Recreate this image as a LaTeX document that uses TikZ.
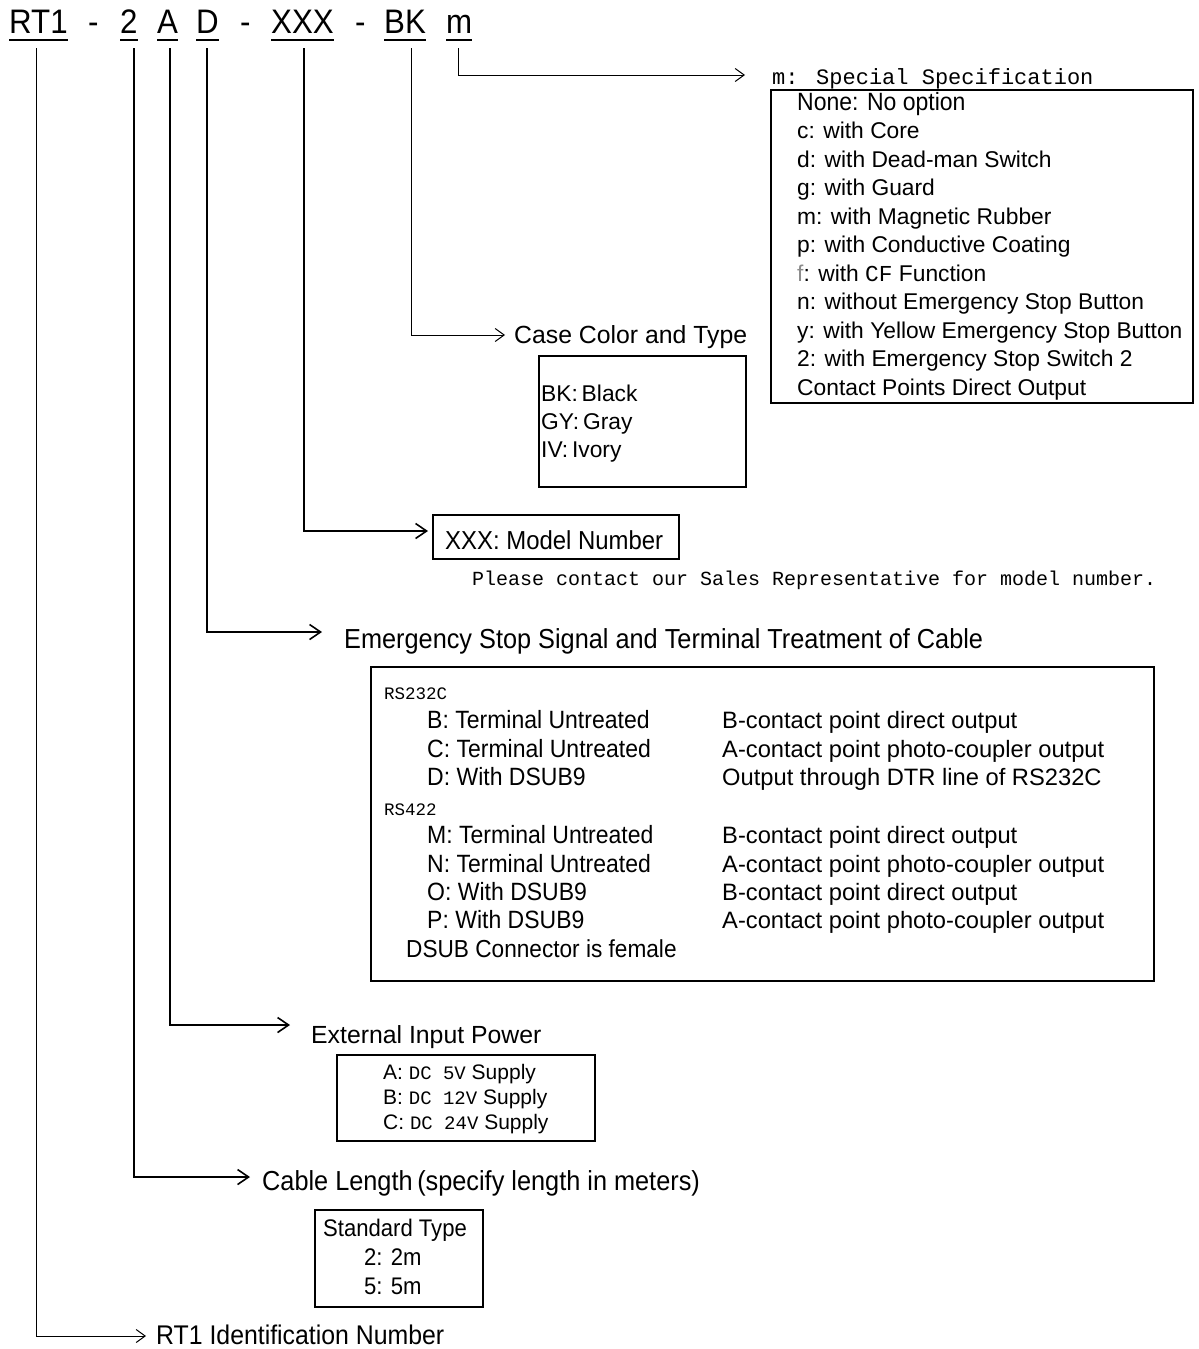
\documentclass[tikz,border=0pt]{standalone}
\usepackage{fontspec}
\setmainfont{Liberation Sans}
\newfontfamily\nar[FakeStretch=0.92]{Liberation Sans}
\newfontfamily\monof{Liberation Mono}
\usetikzlibrary{arrows.meta}
\newcommand{\fsz}[1]{\fontsize{#1}{#1}\selectfont}
\begin{document}
\begin{tikzpicture}[x=1pt,y=-1pt,
  txt/.style={anchor=base west, inner sep=0pt, font=\fsz{22.8}},
  rtxt/.style={anchor=base west, inner sep=0pt, font=\fsz{23.7}},
  ntxt/.style={anchor=base west, inner sep=0pt, font=\nar\fsz{25}},
  ttxt/.style={anchor=base west, inner sep=0pt, font=\nar\fsz{27.5}},
  mtxt/.style={anchor=base west, inner sep=0pt, font=\monof\fsz{20}},
  hdr/.style={anchor=base west, inner sep=0pt, font=\nar\fsz{34}},
  boxx/.style={draw, line width=1.6pt, anchor=north west, inner sep=0pt},
  uline/.style={line width=2pt},
  thinarr/.style={line width=1pt, -{Straight Barb[length=9pt,width=13pt,line width=1pt]}},
  thickarr/.style={line width=2pt, -{Straight Barb[length=11pt,width=15pt,line width=1.6pt]}}
]
\useasboundingbox (0,0) rectangle (1199,1349);
% header
\node[hdr] (hRT) at (9,33) {RT1};
\node[hdr] (hd1) at (88,33) {-};
\node[hdr] (h2) at (120,33) {2};
\node[hdr] (hA) at (157,33) {A};
\node[hdr] (hD) at (196,33) {D};
\node[hdr] (hd2) at (240,33) {-};
\node[hdr] (hX) at (271,33) {XXX};
\node[hdr] (hd3) at (355,33) {-};
\node[hdr] (hBK) at (384,33) {BK};
\node[hdr] (hm) at (446,33) {m};
\foreach \n in {hRT,h2,hA,hD,hX,hBK,hm}{
  \draw[uline] ([yshift=-7pt]\n.base west) -- ([yshift=-7pt]\n.base east);
}
% connector coordinates
\coordinate (sRT) at (36,48);  \coordinate (eRT) at (146,1336);
\coordinate (s2)  at (134,48); \coordinate (e2)  at (250,1177);
\coordinate (sA)  at (170,48); \coordinate (eA)  at (290,1025);
\coordinate (sD)  at (207,48); \coordinate (eD)  at (322,632);
\coordinate (sX)  at (304,48); \coordinate (eX)  at (428,531);
\coordinate (sBK) at (411,48); \coordinate (eBK) at (505,335);
\coordinate (sm)  at (458,48); \coordinate (em)  at (745,75);
\draw[thinarr] (sRT) |- (eRT);
\draw[thickarr] (s2) |- (e2);
\draw[thickarr] (sA) |- (eA);
\draw[thickarr] (sD) |- (eD);
\draw[thickarr] (sX) |- (eX);
\draw[thinarr] (sBK) |- (eBK);
\draw[thinarr] (sm) |- (em);

% Special specification
\node[anchor=base west, inner sep=0pt, font=\monof\fsz{22}] (tm) at (772,84) {m: Special Specification};
\node[boxx, minimum width=422pt, minimum height=313pt] (bm) at (770,89) {};
\node[ntxt] (m1) at (797,110) {None: No option};
\node[txt] (m2) at (797,138.5) {c: with Core};
\node[txt] (m3) at (797,167) {d: with Dead-man Switch};
\node[txt] (m4) at (797,195.5) {g: with Guard};
\node[txt] (m5) at (797,224) {m: with Magnetic Rubber};
\node[txt] (m6) at (797,252.5) {p: with Conductive Coating};
\node[txt] (m7) at (797,281) {{\color[gray]{0.55}f}: with {\monof CF} Function};
\node[txt] (m8) at (797,309.5) {n: without Emergency Stop Button};
\node[txt] (m9) at (797,338) {y: with Yellow Emergency Stop Button};
\node[txt] (m10) at (797,366.5) {2: with Emergency Stop Switch 2};
\node[txt] (m11) at (797,395) {Contact Points Direct Output};

% Case color
\node[anchor=base west, inner sep=0pt, font=\fsz{24.8}] (tBK) at (514,343) {Case Color and Type};
\node[boxx, minimum width=207pt, minimum height=131pt] (bBK) at (538,355) {};
\node[txt] (c1) at (541,401) {BK:\,Black};
\node[txt] (c2) at (541,429) {GY:\,Gray};
\node[txt] (c3) at (541,457) {IV:\,Ivory};

% Model number
\node[boxx, minimum width=246pt, minimum height=44pt] (bX) at (432,514) {};
\node[ntxt, font=\nar\fsz{26}] (tX) at (445,549) {XXX: Model Number};
\node[mtxt] (pX) at (472,585) {Please contact our Sales Representative for model number.};

% Emergency stop
\node[ttxt] (tD) at (344,648) {Emergency Stop Signal and Terminal Treatment of Cable};
\node[boxx, minimum width=783pt, minimum height=314pt] (bD) at (370,666) {};
\node[mtxt, font=\monof\fsz{17.5}] (d0) at (384,699) {RS232C};
\node[ntxt] (d1) at (427,728) {B: Terminal Untreated};
\node[ntxt] (d2) at (427,757) {C: Terminal Untreated};
\node[ntxt] (d3) at (427,785) {D: With DSUB9};
\node[mtxt, font=\monof\fsz{17.5}] (d4) at (384,815) {RS422};
\node[ntxt] (d5) at (427,843) {M: Terminal Untreated};
\node[ntxt] (d6) at (427,872) {N: Terminal Untreated};
\node[ntxt] (d7) at (427,900) {O: With DSUB9};
\node[ntxt] (d8) at (427,928) {P: With DSUB9};
\node[ntxt, font=\nar\fsz{24.6}] (d9) at (406,957) {DSUB Connector is female};
\node[rtxt] (r1) at (722,728) {B-contact point direct output};
\node[rtxt] (r2) at (722,757) {A-contact point photo-coupler output};
\node[rtxt] (r3) at (722,785) {Output through DTR line of RS232C};
\node[rtxt] (r5) at (722,843) {B-contact point direct output};
\node[rtxt] (r6) at (722,872) {A-contact point photo-coupler output};
\node[rtxt] (r7) at (722,900) {B-contact point direct output};
\node[rtxt] (r8) at (722,928) {A-contact point photo-coupler output};

% External input power
\node[anchor=base west, inner sep=0pt, font=\fsz{24.8}] (tA) at (311,1043) {External Input Power};
\node[boxx, minimum width=258pt, minimum height=86pt] (bA) at (336,1054) {};
\node[anchor=base west, inner sep=0pt, font=\fsz{21}] (a1) at (383,1079) {A: {\monof\fsz{19}DC  5V} Supply};
\node[anchor=base west, inner sep=0pt, font=\fsz{21}] (a2) at (383,1104) {B: {\monof\fsz{19}DC 12V} Supply};
\node[anchor=base west, inner sep=0pt, font=\fsz{21}] (a3) at (383,1129) {C: {\monof\fsz{19}DC 24V} Supply};

% Cable length
\node[ttxt] (t2) at (262,1190) {Cable Length\,(specify length in meters)};
\node[boxx, minimum width=168pt, minimum height=97pt] (b2) at (314,1209) {};
\node[ntxt, anchor=base, font=\nar\fsz{24}] (l1) at (395,1236) {Standard Type};
\node[ntxt, font=\nar\fsz{24}] (l2) at (364,1265) {2: 2m};
\node[ntxt, font=\nar\fsz{24}] (l3) at (364,1294) {5: 5m};

% RT1
\node[ttxt, font=\nar\fsz{27}] (tRT) at (156,1344) {RT1 Identification Number};
\end{tikzpicture}
\end{document}
